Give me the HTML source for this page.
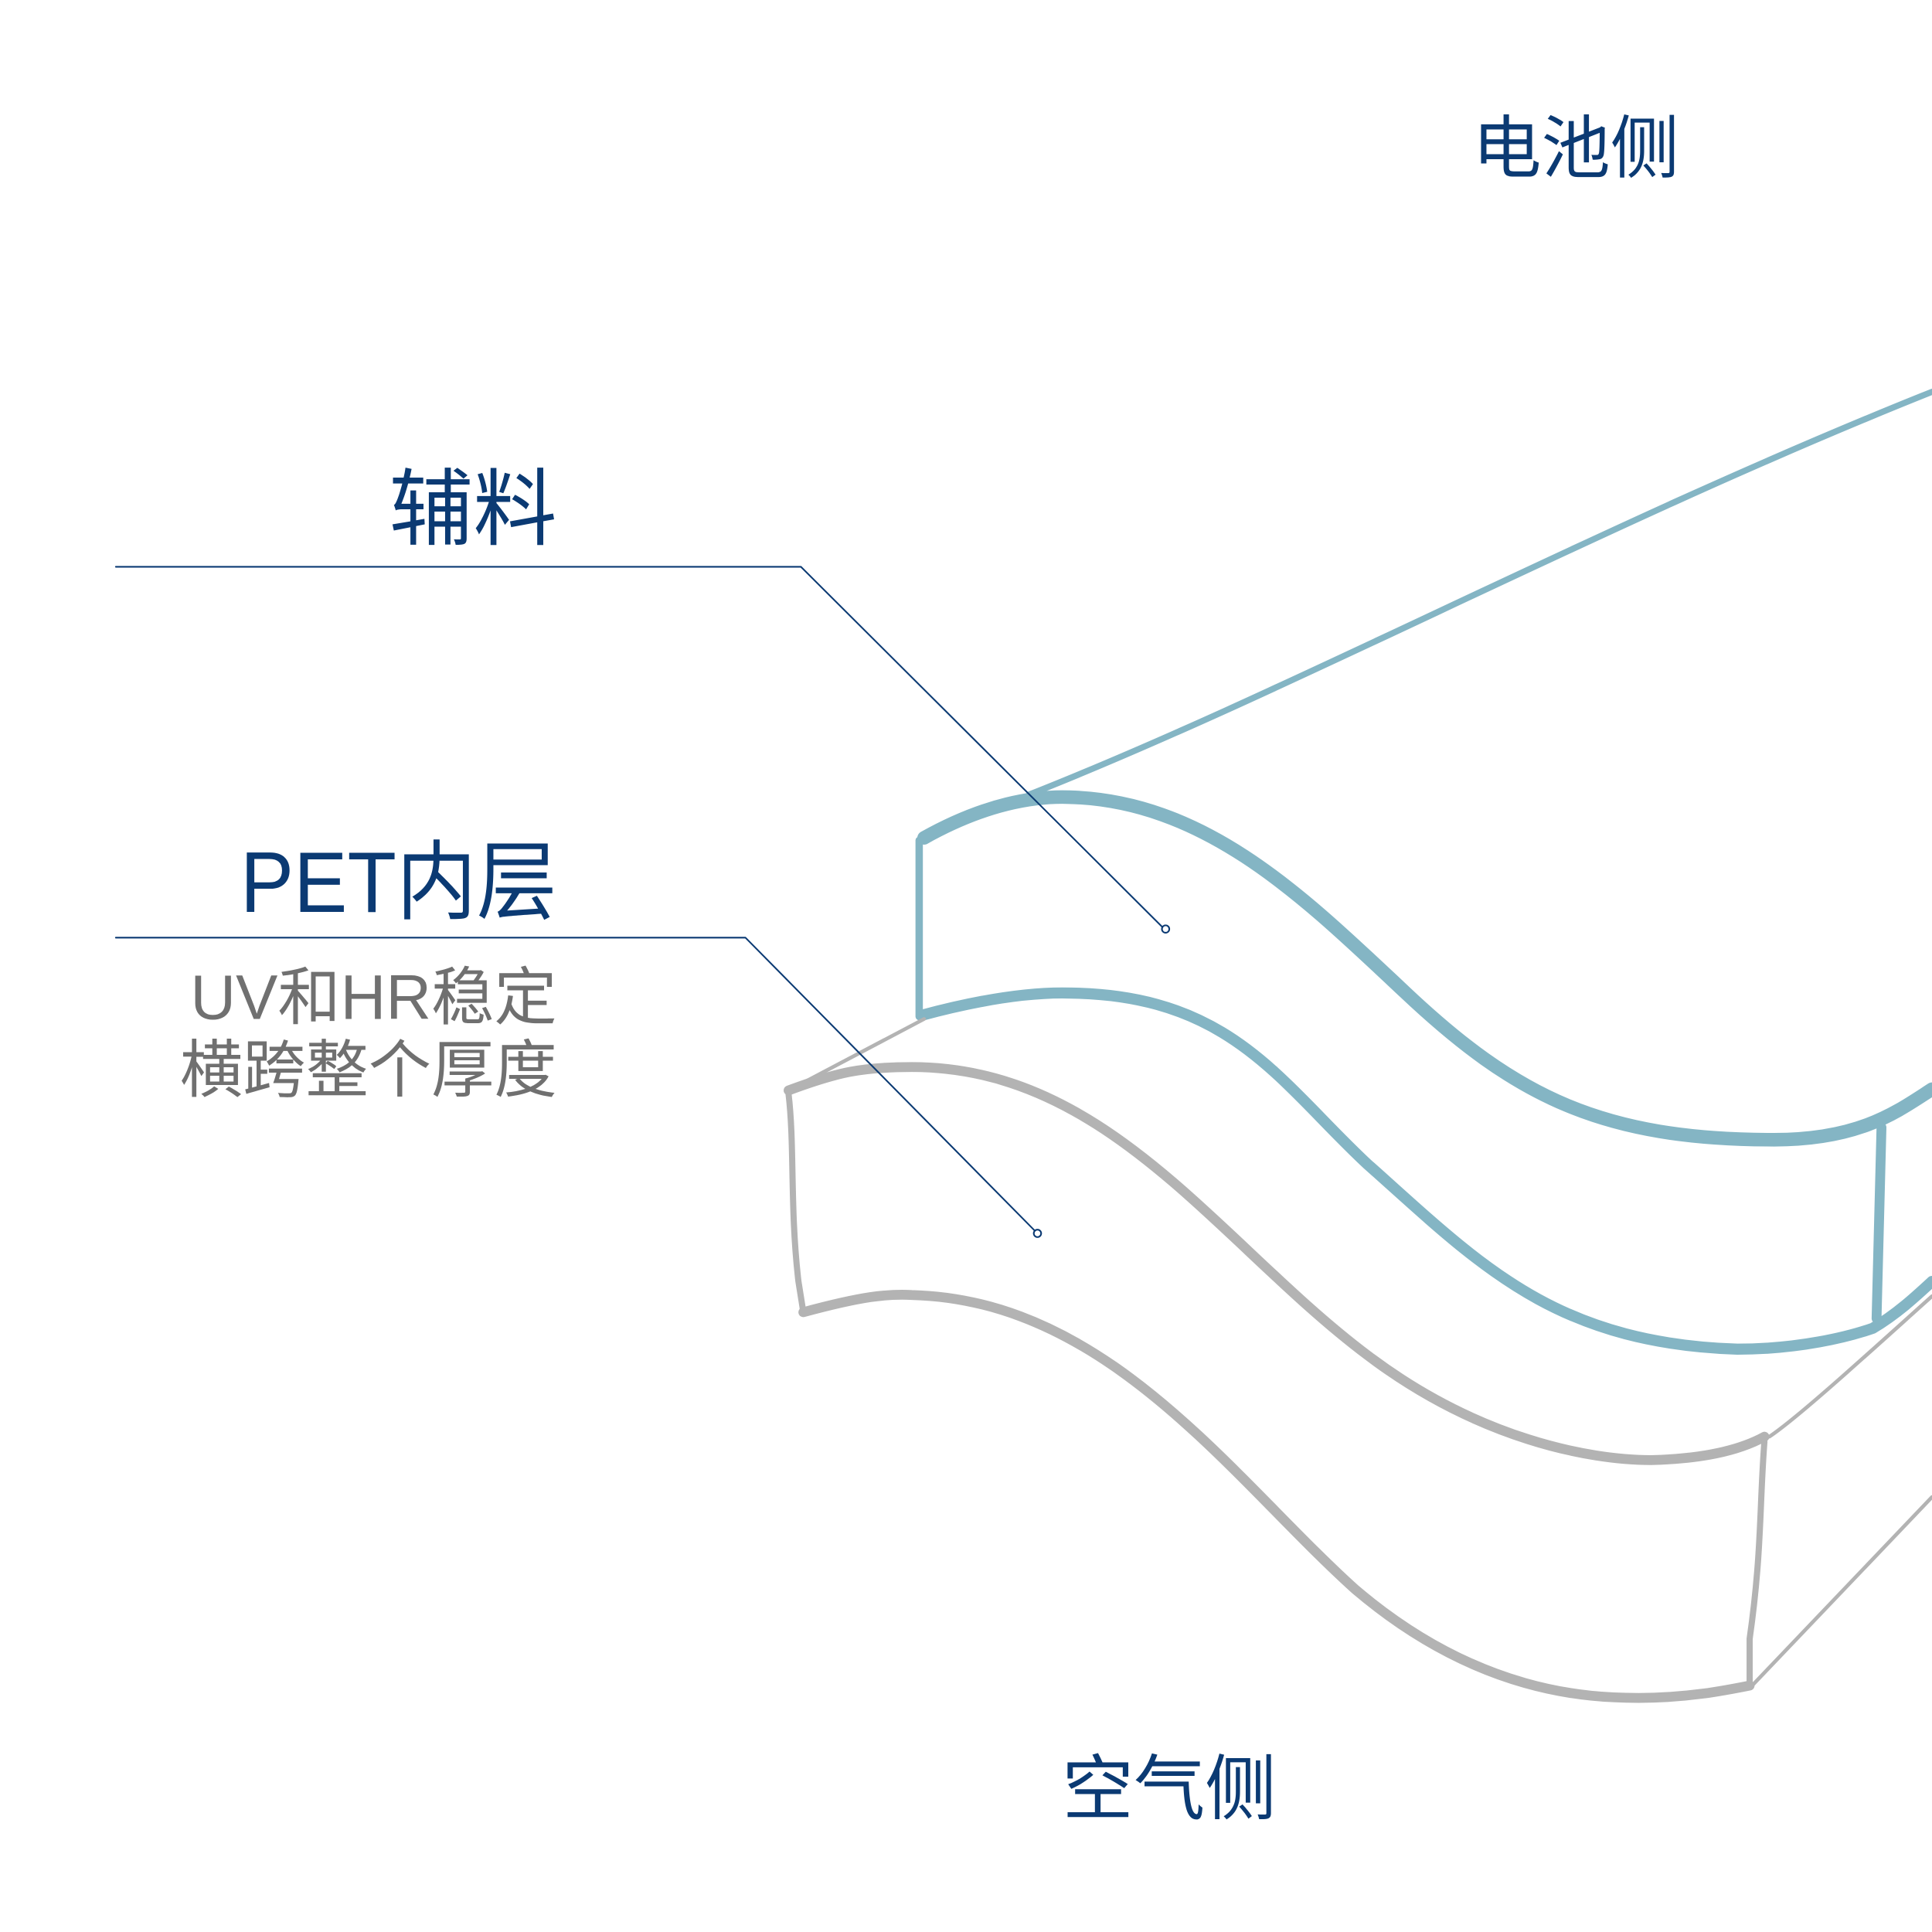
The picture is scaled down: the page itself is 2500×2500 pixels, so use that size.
<!DOCTYPE html>
<html><head><meta charset="utf-8"><style>html,body{margin:0;padding:0;background:#fff}svg{display:block}</style></head>
<body>
<svg width="2500" height="2500" viewBox="0 0 1568 1568" xmlns="http://www.w3.org/2000/svg">
<g fill="none" stroke-linecap="round" stroke-linejoin="round">
<path d="M835,645 C1050,560 1300,425 1568,318" stroke="#84b5c4" stroke-width="5"/>
<path d="M750,680 C800,652 840,646 868,647 C980,650 1060,730 1140,805 C1230,890 1300,925 1440,925 C1510,925 1540,902 1568,884" stroke="#84b5c4" stroke-width="11"/>
<path d="M746,682 L746,825" stroke="#84b5c4" stroke-width="6"/>
<path d="M748,824 C800,810 840,805 870,806 C1000,808 1040,880 1110,945 C1200,1025 1260,1090 1410,1095 C1460,1095 1500,1085 1520,1078 C1540,1066 1555,1052 1568,1040" stroke="#84b5c4" stroke-width="9"/>
<path d="M1527,915 L1523,1070" stroke="#84b5c4" stroke-width="8"/>
<path d="M640,885 L750,827" stroke="#b3b3b3" stroke-width="3"/>
<path d="M640,885 C680,870 700,866 740,866 C900,866 990,1010 1110,1100 C1200,1168 1290,1185 1340,1185 C1380,1184 1410,1178 1432,1166" stroke="#b3b3b3" stroke-width="8"/>
<path d="M640,888 C645,930 641,980 648,1040 L652,1065" stroke="#b3b3b3" stroke-width="5"/>
<path d="M652,1065 C700,1052 720,1050 740,1051 C900,1055 1000,1200 1100,1290 C1200,1375 1290,1378 1330,1378 C1370,1378 1400,1372 1420,1368" stroke="#b3b3b3" stroke-width="8"/>
<path d="M1432,1170 C1428,1220 1430,1260 1420,1330 L1420,1368" stroke="#b3b3b3" stroke-width="5"/>
<path d="M1422,1368 L1568,1215" stroke="#b3b3b3" stroke-width="3"/>
<path d="M1436,1166 C1460,1150 1520,1095 1568,1052" stroke="#b3b3b3" stroke-width="3"/>
<path d="M94,460 L650,460 L943,752" stroke="#0b3a73" stroke-width="1.3"/>
<path d="M94,761 L605,761 L840,999" stroke="#0b3a73" stroke-width="1.3"/>
<circle cx="946" cy="754" r="3" stroke="#0b3a73" stroke-width="1.3" fill="#fff"/>
<circle cx="842" cy="1001" r="3" stroke="#0b3a73" stroke-width="1.3" fill="#fff"/>
</g>
<g font-family="'Liberation Sans','Noto Sans CJK SC',sans-serif" fill="#0b3a73">
<text x="1195" y="140" font-size="56">电池侧</text>
<text x="452" y="437" font-size="68" text-anchor="end">辅料</text>
<text x="452" y="740" font-size="70" text-anchor="end" textLength="257" lengthAdjust="spacingAndGlyphs">PET内层</text>
<text x="862" y="1472" font-size="58">空气侧</text>
<text x="452" y="827" font-size="51" text-anchor="end" fill="#707070">UV和HR稳定</text>
<text x="452" y="886" font-size="51" text-anchor="end" fill="#707070">横跨整个厚度</text>
</g>
</svg>
</body></html>
